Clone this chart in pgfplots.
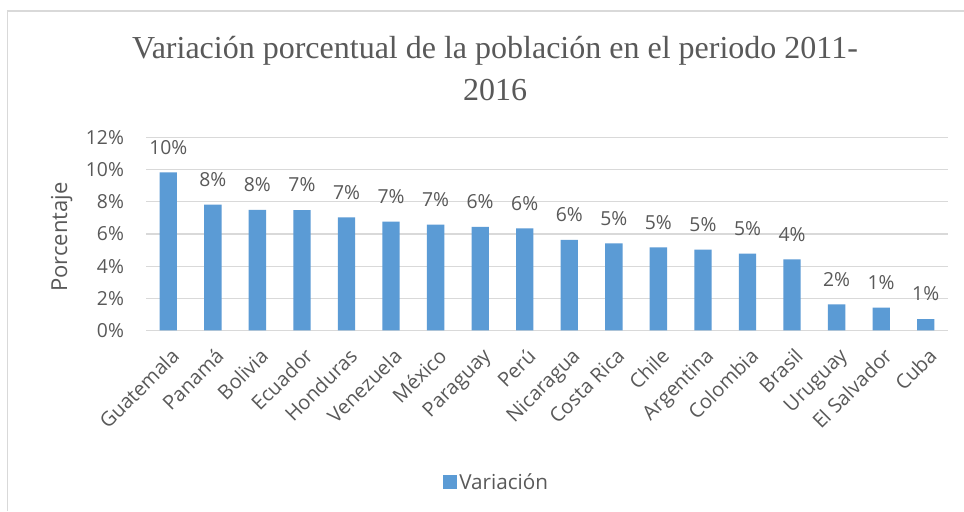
\documentclass[border=0pt]{standalone}
\usepackage{pgfplots}
\pgfplotsset{compat=1.18}
\usepackage{fontspec}
\setmainfont{Open Sans}
\newfontfamily\titlefont{Liberation Serif}
\definecolor{barblue}{HTML}{5B9BD5}
\definecolor{txtgray}{HTML}{595959}
\definecolor{gridgray}{HTML}{D9D9D9}
\begin{document}
\begin{tikzpicture}[x=0.75pt,y=0.75pt]
\path[use as bounding box] (0,0) rectangle (964,511);
\fill[white] (0,0) rectangle (964,511);
\draw[gridgray,line width=0.9pt] (7.5,0) -- (7.5,500) -- (964,500);
\node[font=\titlefont\fontsize{24}{31.5}\selectfont, text=txtgray, align=center] at (495,442) {Variación porcentual de la población en el periodo 2011-\\2016};
\begin{axis}[
  at={(109.5pt,135.5pt)}, anchor=south west,
  scale only axis, width=601.5pt, height=144.5pt,
  xmin=-0.5, xmax=17.5, ymin=0, ymax=12,
  ytick={0,2,4,6,8,10,12},
  yticklabel={\pgfmathprintnumber{\tick}\%},
  /pgf/number format/assume math mode=true,
  xtick=data,
  xticklabels={Guatemala,Panamá,Bolivia,Ecuador,Honduras,Venezuela,México,Paraguay,Perú,Nicaragua,Costa Rica,Chile,Argentina,Colombia,Brasil,Uruguay,El Salvador,Cuba},
  xticklabel style={rotate=45, anchor=north east, font=\fontsize{15}{17}\selectfont, text=txtgray, xshift=-4.5pt, yshift=-6pt},
  yticklabel style={font=\fontsize{14.5}{17}\selectfont, text=txtgray, xshift=-13pt},
  ylabel={Porcentaje},
  every axis y label/.style={at={(axis description cs:-0.105,0.484)}, rotate=90, anchor=center, font=\fontsize{16.5}{19}\selectfont, text=txtgray},
  ymajorgrids, grid style={gridgray, line width=0.9pt},
  axis x line*=bottom, axis y line*=left,
  x axis line style={gridgray, line width=0.9pt},
  y axis line style={draw=none},
  major tick length=0pt,
  ybar, bar width=13pt,
  nodes near coords={\pgfmathprintnumber[fixed,precision=0]{\pgfplotspointmeta}\%},
  nodes near coords style={font=\fontsize{14.5}{17}\selectfont, text=txtgray, anchor=south, yshift=10pt},
  legend style={at={(0.4377,-0.7877)}, anchor=center, draw=none, fill=none, font=\fontsize{15.5}{18}\selectfont, text=txtgray},
  legend image code/.code={\fill[barblue] (0pt,-5pt) rectangle (10pt,5pt);},
  clip=false,
]
\addplot[fill=barblue, draw=none] coordinates {
(0,9.84) (1,7.83) (2,7.51) (3,7.49) (4,7.04) (5,6.77) (6,6.58) (7,6.44) (8,6.35)
(9,5.63) (10,5.42) (11,5.17) (12,5.02) (13,4.77) (14,4.42) (15,1.62) (16,1.41) (17,0.70)
};
\addlegendentry{Variación}
\end{axis}
\end{tikzpicture}
\end{document}
